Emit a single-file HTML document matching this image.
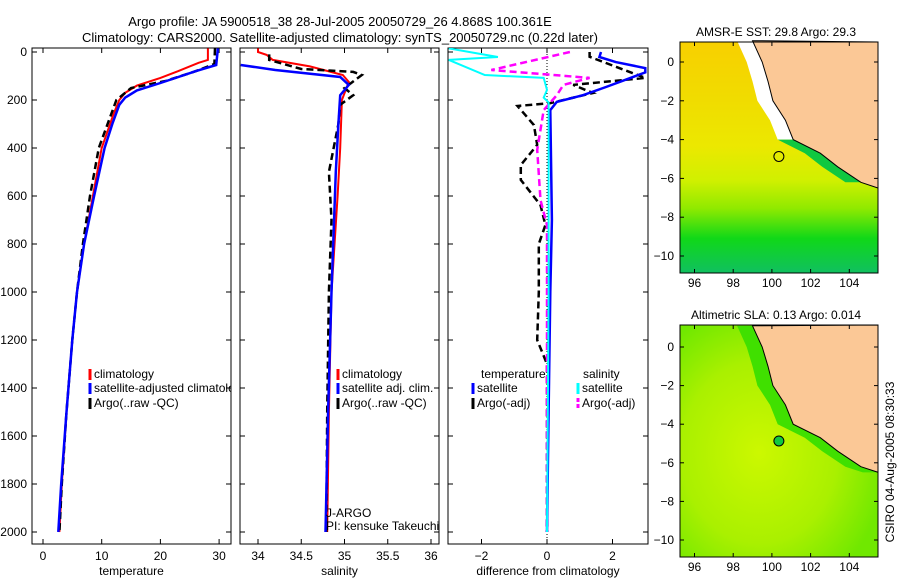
<!DOCTYPE html>
<html><head><meta charset="utf-8"><style>
body{margin:0;background:#fff;}
svg{display:block;font-family:"Liberation Sans",sans-serif;}
text{font-size:12px;fill:#000;}
</style></head><body>
<svg id="c" width="900" height="580" viewBox="0 0 900 580">
<text x="340" y="26" text-anchor="middle" style="font-size:13px">Argo profile: JA 5900518_38 28-Jul-2005 20050729_26 4.868S 100.361E</text>
<text x="340" y="42" text-anchor="middle" style="font-size:13px">Climatology: CARS2000. Satellite-adjusted climatology: synTS_20050729.nc (0.22d later)</text>
<g id="maps"></g>
<g id="panels"></g>
<text transform="translate(894,462) rotate(-90)" text-anchor="middle">CSIRO 04-Aug-2005 08:30:33</text>
</svg>
<script>
// ---- data ----
const depthTicks=[0,200,400,600,800,1000,1200,1400,1600,1800,2000];
const tempTicks=[0,10,20,30];
const salTicks=[34,34.5,35,35.5,36];
const diffTicks=[-2,0,2];
const tClimD=[-15,33,45,80,108,140,170,200,260,400,600,800,1000,1200,1500,1800,2000];
const tClimV=[28.1,28.1,26.5,23,20,16,14,13,12,10,8.5,7,5.8,5,4,3.2,2.8];
const tSatD=[-15,54,80,129,160,190,220,300,400,600,800,1000,1200,1500,1800,2000];
const tSatV=[29.8,29.5,26,20,16,14,13,11.8,10.5,8.7,7,5.8,5,4,3.1,2.6];
const tArgoD=[-15,50,80,120,150,200,400,600,800,1000,1200,1500,1800,2000];
const tArgoV=[29.3,29.2,26,21,15,12.5,9.5,8,6.8,5.8,5,4,3.2,2.8];
const sClimD=[-15,0,12,33,60,96,125,200,400,600,1000,1500,2000];
const sClimV=[34.0,34.0,34.1,34.17,34.6,34.98,35.05,34.97,34.95,34.92,34.85,34.82,34.8];
const sSatD=[54,75,104,137,180,300,500,1000,1500,2000];
const sSatV=[33.8,34.2,34.95,35.05,34.95,34.93,34.9,34.85,34.81,34.78];
const sArgoD=[10,33,71,83,96,150,180,220,300,500,700,1000,1500,2000];
const sArgoV=[34.13,34.13,34.5,35.1,35.2,35.0,35.1,34.95,34.93,34.82,34.85,34.82,34.8,34.79];
const dTSatD=[0,21,42,67,85,146,180,208,242,700,1000,1500,2000];
const dTSatV=[1.65,1.6,2.1,3,3,1.8,1.1,0.3,0.1,0.15,0.1,0.05,0];
const dTArgoD=[0,20,108,137,171,213,225,304,387,471,533,638,721,800,1000,1200,1300,1600,2000];
const dTArgoV=[1.3,1.3,3,0.8,1.4,0.1,-0.9,-0.4,-0.3,-0.8,-0.8,-0.2,-0.05,-0.25,-0.25,-0.3,0,0,0];
const dSSatD=[-15,21,33,96,108,158,190,210,400,1000,2000];
const dSSatV=[-3,-1.5,-3,-1.9,-0.1,0,-0.1,0.05,0.05,0.05,0];
const dSArgoD=[0,75,108,137,180,242,408,617,721,1000,2000];
const dSArgoV=[0.7,-1.7,1.3,0.5,0.3,-0.1,-0.3,-0.2,0,0,0];
const latTicks=[0,-2,-4,-6,-8,-10];
const lonTicks=[96,98,100,102,104];
const coastLon=[99.0,99.5,99.8,100.05,100.7,101.1,102.5,103.4,104.6,105.5];
const coastLat=[1.1,0,-1,-2,-3,-4,-4.7,-5.4,-6.2,-6.5];
const floatLon=100.361, floatLat=-4.868;
// ---- helpers ----
const NS="http://www.w3.org/2000/svg";
function mk(tag,attrs,parent){const e=document.createElementNS(NS,tag);for(const k in attrs)e.setAttribute(k,attrs[k]);parent.appendChild(e);return e;}
const yD=d=>52+d*0.24;
const panels=document.getElementById('panels');
function panel(name,x0,x1,vx,ticks,fmt,xlabel){
  const g=mk('g',{},panels);
  
  
  const r=mk('rect',{x:x0,y:48,width:x1-x0,height:496,fill:'none',stroke:'#000','stroke-width':1},g);
  
  
  depthTicks.forEach(d=>{mk('line',{x1:x0,x2:x0+5,y1:yD(d),y2:yD(d),stroke:'#000'},g);mk('line',{x1:x1-5,x2:x1,y1:yD(d),y2:yD(d),stroke:'#000'},g);
    if(name==='temperature-panel'){const t=mk('text',{x:27,y:yD(d)+4,'text-anchor':'end'},g);t.textContent=d;
      
      }});
  ticks.forEach(v=>{const x=vx(v);mk('line',{x1:x,x2:x,y1:48,y2:53,stroke:'#000'},g);mk('line',{x1:x,x2:x,y1:539,y2:544,stroke:'#000'},g);
    const t=mk('text',{x:x,y:560,'text-anchor':'middle'},g);t.textContent=fmt(v);
    
    });
  const xl=mk('text',{x:(x0+x1)/2,y:575,'text-anchor':'middle'},g);xl.textContent=xlabel;
  
  
  const cp=mk('clipPath',{id:'cp'+x0},g);mk('rect',{x:x0,y:48,width:x1-x0,height:496},cp);
  const lg=mk('g',{'clip-path':'url(#cp'+x0+')'},g);
  return lg;
}
function line(g,name,D,V,vx,color,w,dash){
  const pts=D.map((d,i)=>vx(V[i]).toFixed(1)+','+yD(d).toFixed(1)).join(' ');
  const p=mk('polyline',{points:pts,fill:'none',stroke:color,'stroke-width':w},g);
  if(dash)p.setAttribute('stroke-dasharray',dash);
  
  
}
function legend(g,x,y,color,label,dash){
  const l=mk('line',{x1:x,x2:x,y1:y-9,y2:y+2,stroke:color,'stroke-width':3},g);
  if(dash)l.setAttribute('stroke-dasharray','4,2');
  
  
  const t=mk('text',{x:x+4,y:y},g);t.textContent=label;
  
  
}
// temperature
const vT=v=>43+v*5.87;
let g=panel('temperature-panel',32,231,vT,tempTicks,v=>v,'temperature');
line(g,'temp-climatology',tClimD,tClimV,vT,'#f00',2);
line(g,'temp-argo',tArgoD,tArgoV,vT,'#000',2.5,'7,4');
line(g,'temp-satellite-adjusted',tSatD,tSatV,vT,'#00f',2.5);
legend(g,90,378,'#f00','climatology');legend(g,90,392,'#00f','satellite-adjusted climatology');legend(g,90,407,'#000','Argo(..raw -QC)');
// salinity
const vS=v=>258+(v-34)*86.5;
g=panel('salinity-panel',240,439,vS,salTicks,v=>v,'salinity');
line(g,'sal-climatology',sClimD,sClimV,vS,'#f00',2);
line(g,'sal-argo',sArgoD,sArgoV,vS,'#000',2.5,'7,4');
line(g,'sal-satellite-adjusted',sSatD,sSatV,vS,'#00f',2.5);
legend(g,338,378,'#f00','climatology');legend(g,338,392,'#00f','satellite adj. clim.');legend(g,338,407,'#000','Argo(..raw -QC)');
let t=mk('text',{x:326,y:517},g);t.textContent='J-ARGO';


t=mk('text',{x:326,y:530},g);t.textContent='PI: kensuke Takeuchi';


// difference
const vDf=v=>547+v*32.75;
g=panel('difference-panel',448,648,vDf,diffTicks,v=>v===-2?'−2':v,'difference from climatology');
mk('line',{x1:vDf(0),x2:vDf(0),y1:48,y2:544,stroke:'#000','stroke-dasharray':'1,2'},g);
line(g,'diff-temp-argo',dTArgoD,dTArgoV,vDf,'#000',2.5,'7,4');
line(g,'diff-sal-argo',dSArgoD,dSArgoV,vDf,'#f0f',2.5,'7,4');
line(g,'diff-temp-satellite',dTSatD,dTSatV,vDf,'#00f',2.5);
line(g,'diff-sal-satellite',dSSatD,dSSatV,vDf,'#0ff',2);
t=mk('text',{x:481,y:378},g);t.textContent='temperature';


t=mk('text',{x:583,y:378},g);t.textContent='salinity';


legend(g,473,392,'#00f','satellite');legend(g,473,407,'#000','Argo(-adj)');
legend(g,578,392,'#0ff','satellite');legend(g,578,407,'#f0f','Argo(-adj)',true);
// ---- maps ----
const maps=document.getElementById('maps');
const defs=mk('defs',{},maps);
let lgd=mk('linearGradient',{id:'sst',x1:0,y1:0,x2:0,y2:1},defs);
[['0','#f8d000'],['0.25','#f0dc00'],['0.45','#ece800'],['0.6','#d0f000'],['0.72','#90ea00'],['0.85','#10d818'],['1','#10c060']].forEach(s=>mk('stop',{offset:s[0],'stop-color':s[1]},lgd));
let rg=mk('radialGradient',{id:'sla',cx:0.4,cy:0.55,r:0.65},defs);
[['0','#ccf800'],['0.6','#aaf000'],['1','#70e800']].forEach(s=>mk('stop',{offset:s[0],'stop-color':s[1]},rg));
function map(name,top,bot,lat0y,lat10y,fill,title){
  const x0=680,x1=878;
  const lx=lon=>694.5+(lon-96)*19.35;
  const ly=lat=>lat0y+(-lat)*(lat10y-lat0y)/10;
  const g=mk('g',{},maps);
  
  
  const bg=mk('rect',{x:x0,y:top,width:x1-x0,height:bot-top,fill:fill},g);
  
  
  const pts=coastLon.map((lo,i)=>lx(lo).toFixed(1)+','+ly(coastLat[i]).toFixed(1));
  const strip=coastLon.map((lo,i)=>lx(lo-0.8).toFixed(1)+','+ly(coastLat[i]).toFixed(1));
  if(name==='sst-map'){
    mk('polygon',{points:strip.slice(0,6).join(' ')+' '+pts.slice(0,6).reverse().join(' '),fill:'#fff'},g);
    mk('polygon',{points:strip.slice(5,9).join(' ')+' '+pts.slice(5,9).reverse().join(' '),fill:'#10c840'},g);
  } else {
    mk('polygon',{points:strip.join(' ')+' '+pts.slice().reverse().join(' '),fill:'#40e000'},g);
  }
  const land=mk('polygon',{points:pts.join(' ')+' '+x1+','+ly(-6.5)+' '+x1+','+top,fill:'#fbc896',stroke:'#000','stroke-width':1},g);
  
  
  const fc=mk('circle',{cx:lx(floatLon),cy:ly(floatLat),r:5,fill:name==='sst-map'?'none':'#10c840',stroke:'#000'},g);
  
  
  mk('rect',{x:x0,y:top,width:x1-x0,height:bot-top,fill:'none',stroke:'#000'},g);
  latTicks.forEach(la=>{const y=ly(la);mk('line',{x1:x0,x2:x0+4,y1:y,y2:y,stroke:'#000'},g);mk('line',{x1:x1-4,x2:x1,y1:y,y2:y,stroke:'#000'},g);
    const tt=mk('text',{x:x0-6,y:y+4,'text-anchor':'end'},g);tt.textContent=la<0?'−'+(-la):la;
    
    });
  lonTicks.forEach(lo=>{const x=lx(lo);mk('line',{x1:x,x2:x,y1:bot-4,y2:bot,stroke:'#000'},g);mk('line',{x1:x,x2:x,y1:top,y2:top+4,stroke:'#000'},g);
    const tt=mk('text',{x:x,y:bot+14,'text-anchor':'middle'},g);tt.textContent=lo;
    
    });
  const ti=mk('text',{x:776,y:top-6,'text-anchor':'middle'},g);ti.textContent=title;
  
  
}
map('sst-map',42,273,62,256,'url(#sst)','AMSR-E SST: 29.8  Argo: 29.3');
map('sla-map',325,557,347,540,'url(#sla)','Altimetric SLA: 0.13  Argo: 0.014');
</script>
</body></html>
